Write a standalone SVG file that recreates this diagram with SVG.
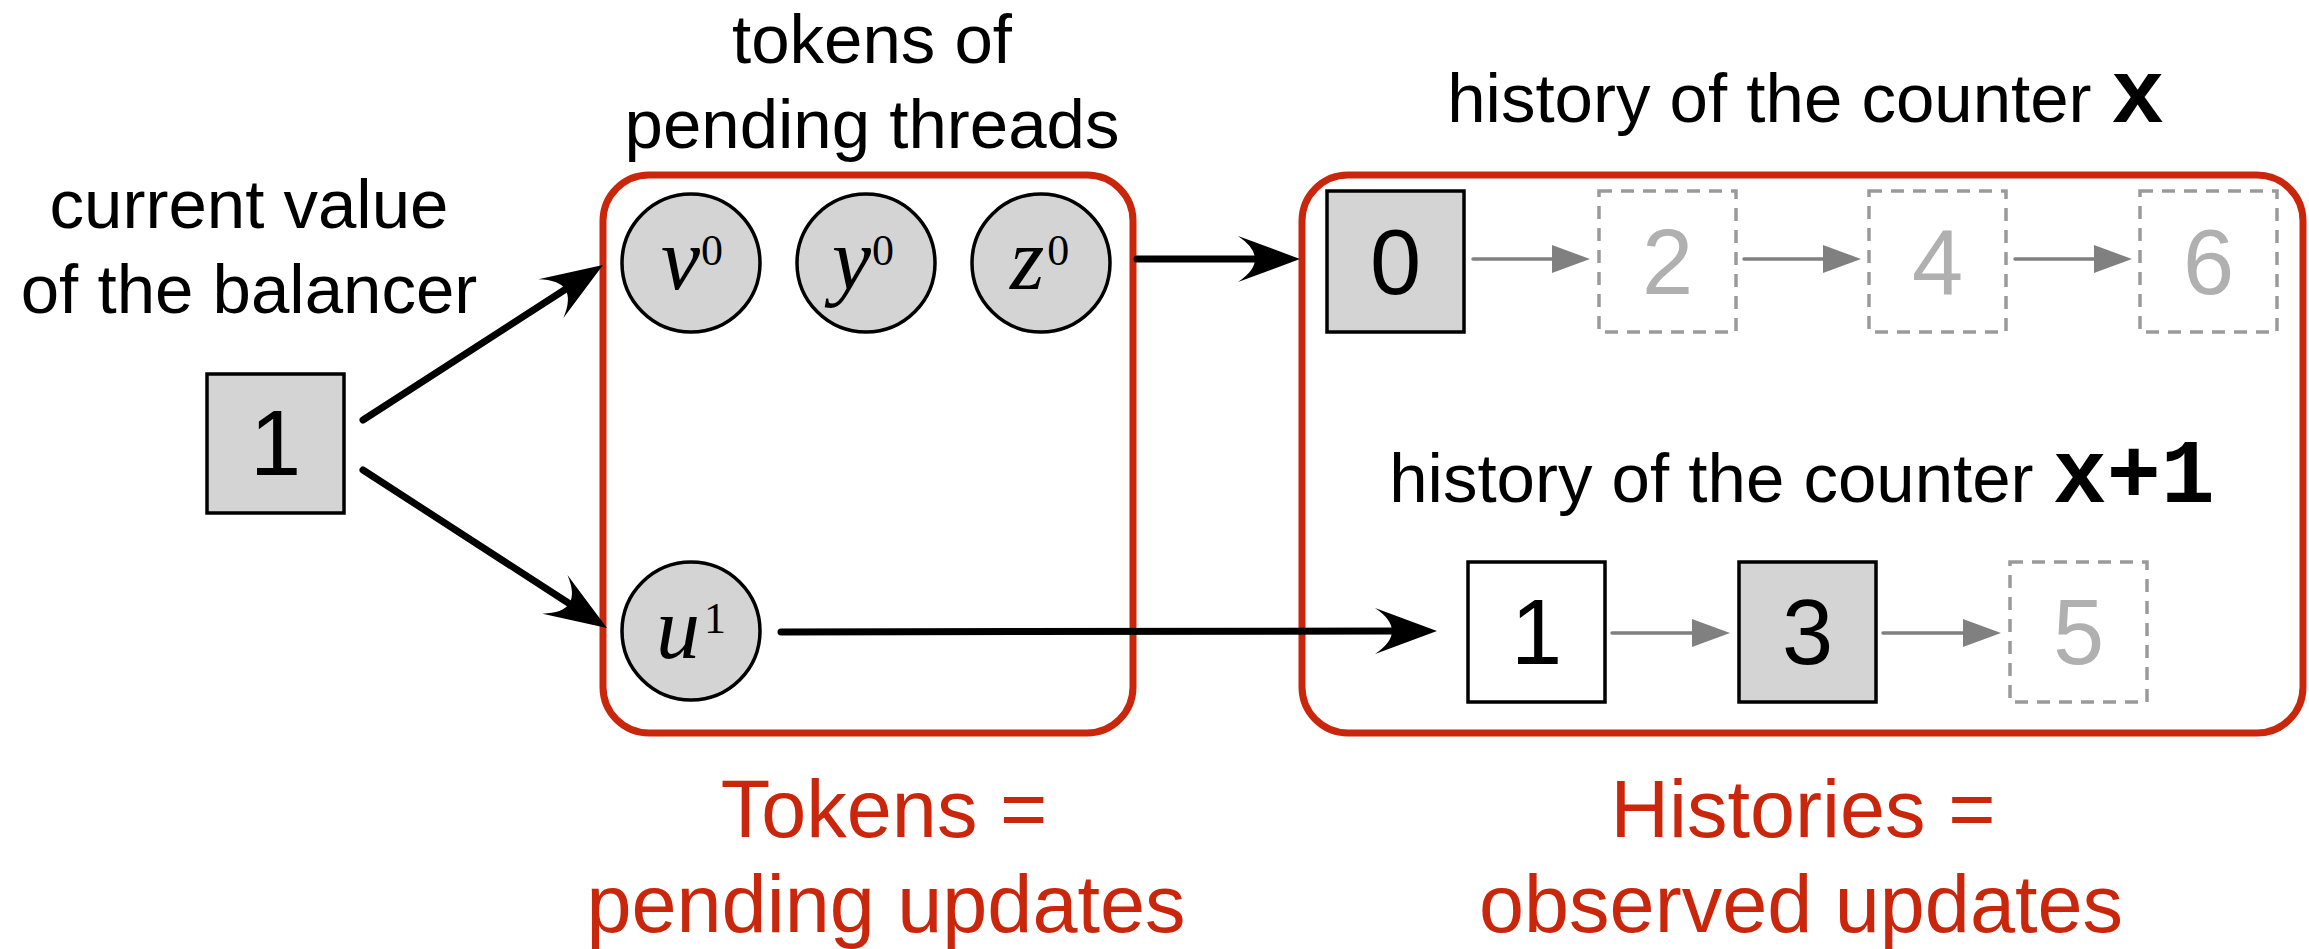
<svg xmlns="http://www.w3.org/2000/svg" width="2309" height="949" viewBox="0 0 2309 949">
<style>
.lbl{font-family:"Liberation Sans",Arial,sans-serif;font-size:69px;fill:#000;text-anchor:middle}
.mono{font-family:"Liberation Mono","Courier New",monospace;font-weight:bold;font-size:90px}
.red{font-family:"Liberation Sans",Arial,sans-serif;font-size:81px;fill:#c9260c;text-anchor:middle}
.grp{fill:none;stroke:#c9260c;stroke-width:7}
.box{stroke:#000;stroke-width:3.5}
.gray{fill:#d4d4d4}
.white{fill:#fff}
.dash{fill:#fff;stroke:#9a9a9a;stroke-width:3.5;stroke-dasharray:13 9}
.dig{font-family:"Liberation Sans",Arial,sans-serif;font-size:92px;text-anchor:middle;fill:#000}
.digl{fill:#b0b0b0}
.tok{fill:#d4d4d4;stroke:#000;stroke-width:3.5}
.tl{font-family:"Liberation Serif","Times New Roman",serif;font-style:italic;font-size:88px;fill:#000}
.sup{font-style:normal;font-size:44px}
.big{stroke:#000;stroke-width:7;stroke-linecap:round;fill:none;marker-end:url(#ah)}
.small{stroke:#808080;stroke-width:3.5;stroke-linecap:round;fill:none;marker-end:url(#sh)}
</style>
<defs>
<marker id="ah" markerUnits="userSpaceOnUse" markerWidth="66" markerHeight="50" refX="24" refY="24" orient="auto" overflow="visible">
<path d="M64,24 L2,1 Q36,24 2,47 Z" fill="#000"/>
</marker>
<marker id="sh" markerUnits="userSpaceOnUse" markerWidth="40" markerHeight="30" refX="18" refY="14" orient="auto" overflow="visible">
<path d="M38,14 L0,0 L0,28 Z" fill="#808080"/>
</marker>
</defs>

<g id="labels">
<text class="lbl" x="249" y="228">current value</text>
<text class="lbl" x="249" y="313">of the balancer</text>
<text class="lbl" x="872" y="63">tokens of</text>
<text class="lbl" x="872" y="148">pending threads</text>
<text class="lbl" x="1806" y="122">history of the counter <tspan class="mono">x</tspan></text>
<text class="lbl" x="1802" y="502">history of the counter <tspan class="mono">x+1</tspan></text>
<text class="red" x="884" y="837">Tokens =</text>
<text class="red" x="886" y="932">pending updates</text>
<text class="red" x="1803" y="837">Histories =</text>
<text class="red" x="1801" y="932">observed updates</text>
</g>

<g id="tokens-group">
<rect class="grp" x="603" y="175" width="530" height="558" rx="46"/>
</g>
<g id="histories-group">
<rect class="grp" x="1302" y="175" width="1001" height="558" rx="46"/>
</g>

<g id="balancer">
<rect class="box gray" x="207" y="374" width="137" height="139"/>
<text class="dig" x="275.5" y="475">1</text>
</g>

<g id="token-v0">
<circle class="tok" cx="691" cy="263" r="69"/>
<text class="tl" x="661" y="289">v<tspan class="sup" dy="-24" dx="1">0</tspan></text>
</g>
<g id="token-y0">
<circle class="tok" cx="866" cy="263" r="69"/>
<text class="tl" x="832" y="289">y<tspan class="sup" dy="-24" dx="1">0</tspan></text>
</g>
<g id="token-z0">
<circle class="tok" cx="1041" cy="263" r="69"/>
<text class="tl" x="1010" y="289">z<tspan class="sup" dy="-24" dx="3">0</tspan></text>
</g>
<g id="token-u1">
<circle class="tok" cx="691" cy="631" r="69"/>
<text class="tl" x="656" y="658">u<tspan class="sup" dy="-25" dx="4">1</tspan></text>
</g>

<g id="hx-0">
<rect class="box gray" x="1327" y="191" width="137" height="141"/>
<text class="dig" x="1395.5" y="294">0</text>
</g>
<g id="hx-2">
<rect class="dash" x="1599" y="191" width="137" height="141"/>
<text class="dig digl" x="1667.5" y="294">2</text>
</g>
<g id="hx-4">
<rect class="dash" x="1869" y="191" width="137" height="141"/>
<text class="dig digl" x="1937.5" y="294">4</text>
</g>
<g id="hx-6">
<rect class="dash" x="2140" y="191" width="137" height="141"/>
<text class="dig digl" x="2208.5" y="294">6</text>
</g>

<g id="hx1-1">
<rect class="box white" x="1468" y="562" width="137" height="140"/>
<text class="dig" x="1536.5" y="664">1</text>
</g>
<g id="hx1-3">
<rect class="box gray" x="1739" y="562" width="137" height="140"/>
<text class="dig" x="1807.5" y="664">3</text>
</g>
<g id="hx1-5">
<rect class="dash" x="2010" y="562" width="137" height="140"/>
<text class="dig digl" x="2078.5" y="664">5</text>
</g>

<g id="connectors">
<line class="big" x1="363" y1="420" x2="569.4" y2="286.7"/>
<line class="big" x1="363" y1="470" x2="573.4" y2="606.3"/>
<line class="big" x1="1137" y1="259" x2="1260" y2="259"/>
<line class="big" x1="781" y1="632" x2="1397" y2="631"/>
<line class="small" x1="1473" y1="259" x2="1570" y2="259"/>
<line class="small" x1="1744" y1="259" x2="1841" y2="259"/>
<line class="small" x1="2015" y1="259" x2="2112" y2="259"/>
<line class="small" x1="1612" y1="633" x2="1710" y2="633"/>
<line class="small" x1="1883" y1="633" x2="1981" y2="633"/>
</g>
</svg>
